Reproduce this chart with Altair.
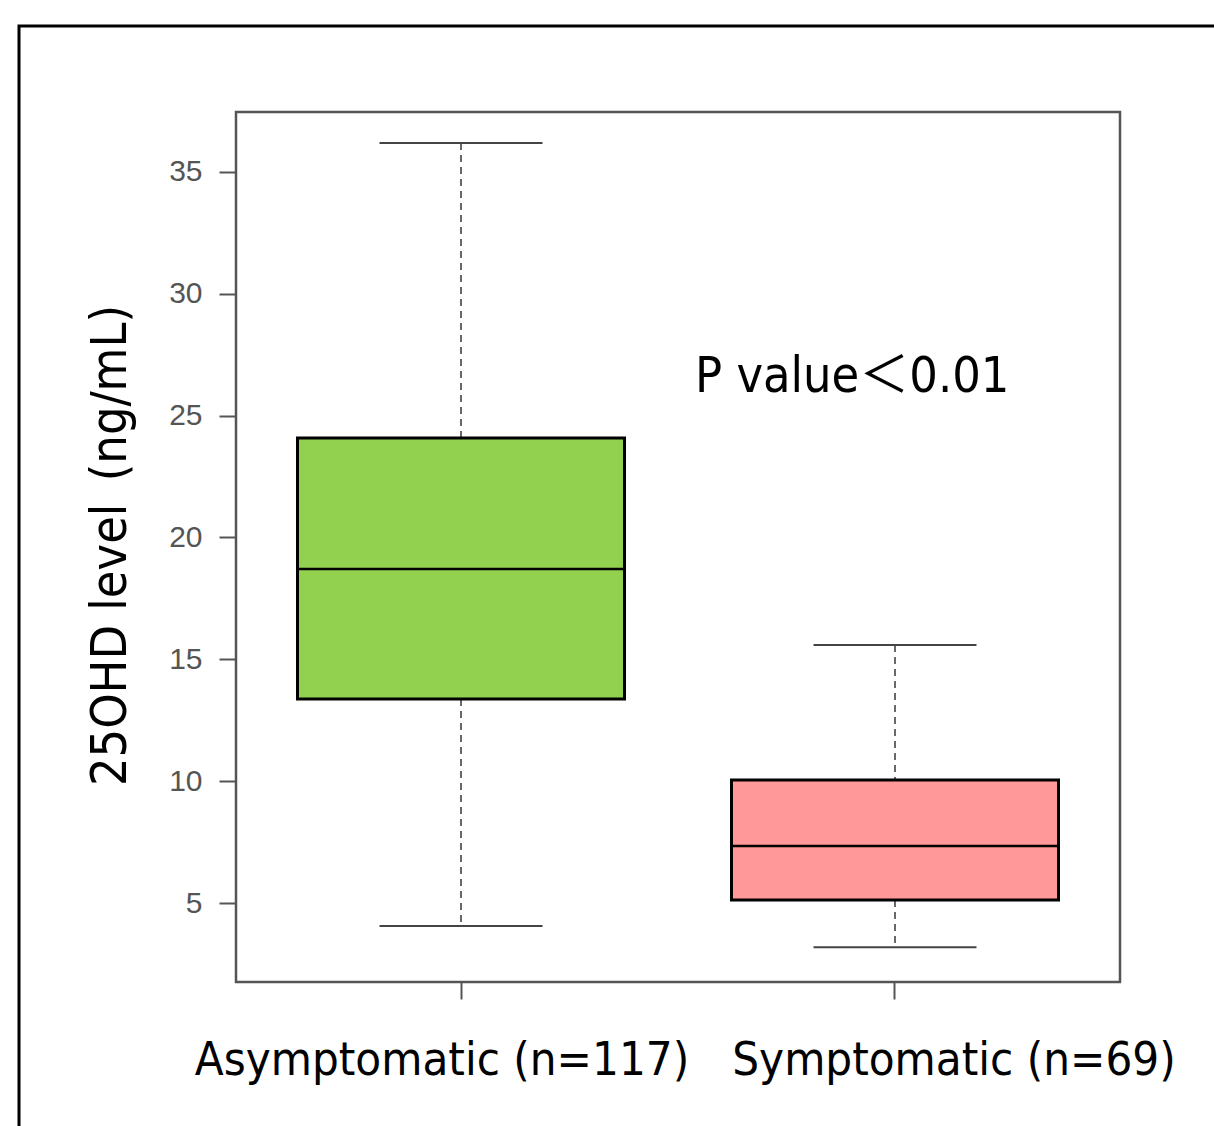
import altair as alt
import pandas as pd

categories = ["Asymptomatic (n=117)", "Symptomatic (n=69)"]
whisker_low = [4.06, 3.19]
q1 = [13.37, 5.12]
median = [18.71, 7.34]
q3 = [24.08, 10.05]
whisker_high = [36.19, 15.59]
box_colors = ["#92D050", "#FF9999"]
y_ticks = [5, 10, 15, 20, 25, 30, 35]
y_domain = [1.76, 37.46]
annotation = "P value\uff1c0.01"
y_title = "25OHD level\u2002(ng/mL)"

df = pd.DataFrame({
    "cat": categories,
    "lo": whisker_low,
    "q1": q1,
    "med": median,
    "q3": q3,
    "hi": whisker_high,
})

FONT = "DejaVu Sans Condensed, DejaVu Sans, Noto Sans CJK JP"

xscale = alt.Scale(domain=categories, paddingInner=0.2465, paddingOuter=0.1417)
yscale = alt.Scale(domain=y_domain, nice=False, zero=False)

xenc = alt.X("cat:N", scale=xscale, sort=categories,
             axis=alt.Axis(labels=False, title=None, domain=False, tickSize=17,
                           tickColor="#555555", tickWidth=2))
yaxis = alt.Axis(values=y_ticks, domain=False, grid=False, tickSize=17, tickColor="#555555",
                 tickWidth=2, labelFont="Liberation Sans", labelFontSize=30,
                 labelColor="#555555", labelPadding=17,
                 title=y_title, titleFont=FONT, titleFontSize=50, titleFontWeight="normal",
                 titleColor="black", titleAngle=-90, titleBaseline="alphabetic",
                 titleAlign="center", titleX=-111, titleY=433)

base = alt.Chart(df)

frame = alt.Chart(pd.DataFrame({"k": [0]})).mark_rect(
    fillOpacity=0, stroke="black", strokeWidth=3
).encode(x=alt.value(-217), x2=alt.value(1100), y=alt.value(-86), y2=alt.value(1200))

whisk_hi = base.mark_rule(strokeDash=[7, 5], color="#444444", strokeWidth=1.6, opacity=1).encode(
    x=xenc, y=alt.Y("hi:Q", scale=yscale, axis=yaxis), y2="q3:Q")
whisk_lo = base.mark_rule(strokeDash=[7, 5], color="#444444", strokeWidth=1.6, opacity=1).encode(
    x=xenc, y=alt.Y("q1:Q", scale=yscale), y2="lo:Q")

caps = base.transform_fold(["lo", "hi"], as_=["which", "val"]).mark_tick(
    size=163, thickness=2, color="#444444", opacity=1).encode(
    x=xenc, y=alt.Y("val:Q", scale=yscale))

boxes = base.mark_bar(stroke="black", strokeWidth=3, opacity=1).encode(
    x=xenc, y=alt.Y("q1:Q", scale=yscale), y2="q3:Q",
    color=alt.Color("cat:N", scale=alt.Scale(domain=categories, range=box_colors), legend=None))

med = base.mark_tick(size=327, thickness=2.5, color="black", opacity=1).encode(
    x=xenc, y=alt.Y("med:Q", scale=yscale))

ptext = alt.Chart(pd.DataFrame({"t": [annotation]})).mark_text(
    font=FONT, fontSize=50, align="left", baseline="alphabetic", color="black"
).encode(x=alt.value(459), y=alt.value(280), text="t:N")

lab1 = base.transform_filter(alt.datum.cat == categories[0]).mark_text(
    font=FONT, fontSize=47, align="center", baseline="alphabetic", color="black", dx=-19
).encode(x=xenc, y=alt.value(963), text="cat:N")
lab2 = base.transform_filter(alt.datum.cat == categories[1]).mark_text(
    font=FONT, fontSize=47, align="center", baseline="alphabetic", color="black", dx=59
).encode(x=xenc, y=alt.value(963), text="cat:N")

chart = alt.layer(frame, whisk_hi, whisk_lo, caps, boxes, med, ptext, lab1, lab2).properties(
    width=884, height=870,
    background="white",
    autosize=alt.AutoSizeParams(type="none"),
    padding={"left": 236, "top": 112, "right": 94, "bottom": 144},
).configure_view(stroke="#555555", strokeWidth=2.5)

chart.save("out.html", embed_options={"renderer": "svg", "actions": False})
